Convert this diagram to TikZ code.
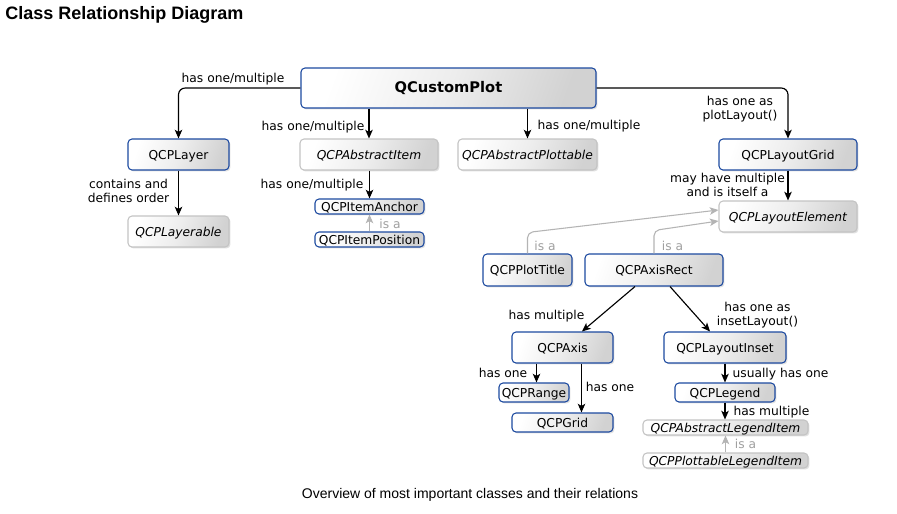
\documentclass[tikz,border=0pt]{standalone}
\usepackage{fontspec}
\setmainfont{DejaVu Sans}
\newfontfamily\arialfont{Liberation Sans}
\usetikzlibrary{arrows.meta,calc,shadows}
\definecolor{bordblue}{HTML}{1D4AA0}
\definecolor{bordgray}{HTML}{C4C4C4}
\definecolor{boxgray}{HTML}{D2D2D2}
\definecolor{boxmid}{HTML}{EDEDED}
\definecolor{isagray}{HTML}{B4B4B4}
\definecolor{isatext}{HTML}{A0A0A0}
\begin{document}
\begin{tikzpicture}[x=0.75pt,y=-0.75pt,
  font=\fontsize{9.2pt}{10.4pt}\selectfont,
  sz/.style 2 args={minimum width=#1*0.75pt, minimum height=#2*0.75pt},
  cls/.style={draw=bordblue, line width=0.8pt, rounded corners=3pt,
    top color=white, bottom color=boxgray, middle color=boxmid, shading angle=70,
    drop shadow={shadow xshift=1.1pt, shadow yshift=-1.1pt, opacity=0.2, fill=black!60},
    inner sep=0pt, text height=0.73em, text depth=0pt},
  abs/.style={cls, draw=bordgray, font=\fontsize{9.2pt}{10.4pt}\selectfont\itshape},
  arr/.style={draw=black, line width=0.85pt, -{Stealth[length=6.5pt, width=5.6pt, inset=1.6pt]}},
  isa/.style={draw=isagray, line width=0.8pt, -{Stealth[length=6.5pt, width=5.6pt, inset=1.6pt]}},
  lbl/.style={inner sep=0pt, text height=0.73em, text depth=0pt},
  lblm/.style={inner sep=0pt, align=center},
  isalbl/.style={lbl, text=isatext}
]
\useasboundingbox (0,0) rectangle (897,514);
\fill[white] (0,0) rectangle (897,514);

% title and caption
\node[anchor=base west, inner sep=0pt, font=\arialfont\fontsize{13.5pt}{15pt}\selectfont\bfseries] (title) at (5,19.5) {Class Relationship Diagram};
\node[anchor=base, inner sep=0pt, font=\arialfont\fontsize{10.5pt}{12pt}\selectfont] (caption) at (470,498) {Overview of most important classes and their relations};

% class boxes
\node[cls, sz={295}{40}, font=\fontsize{11pt}{13pt}\selectfont\bfseries] (cp) at (448.5,88) {QCustomPlot};
\node[cls, sz={101}{31}] (layer) at (178.5,154.5) {QCPLayer};
\node[abs, sz={101}{31}] (layerable) at (178.5,231.5) {QCPLayerable};
\node[abs, sz={138}{31}] (ai) at (369,154.5) {QCPAbstractItem};
\node[cls, sz={109}{15}] (anchor) at (369.5,206.5) {QCPItemAnchor};
\node[cls, sz={109}{15}] (position) at (369.5,239.5) {QCPItemPosition};
\node[abs, sz={139}{31}] (ap) at (527.5,154.5) {QCPAbstractPlottable};
\node[cls, sz={138}{31}] (grid) at (788,154.5) {QCPLayoutGrid};
\node[abs, sz={138}{31}] (le) at (788,216.5) {QCPLayoutElement};
\node[cls, sz={89}{32}] (pt) at (527.5,270) {QCPPlotTitle};
\node[cls, sz={138}{32}] (ar) at (654,270) {QCPAxisRect};
\node[cls, sz={101}{31}] (axis) at (562.5,347.5) {QCPAxis};
\node[cls, sz={122}{31}] (inset) at (725,347.5) {QCPLayoutInset};
\node[cls, sz={70}{19}] (range) at (534,392.5) {QCPRange};
\node[cls, sz={101}{19}] (gridc) at (562.5,422.5) {QCPGrid};
\node[cls, sz={100}{19}] (legend) at (725,392.5) {QCPLegend};
\node[abs, sz={165}{15}] (ali) at (725.5,427.5) {QCPAbstractLegendItem};
\node[abs, sz={165}{15}] (pli) at (725.5,460.5) {QCPPlottableLegendItem};

% connectors
\draw[arr, rounded corners=5pt] (cp.west) -| (layer.north);
\draw[arr] (cp.south -| ai.north) -- (ai.north);
\draw[arr] (cp.south -| ap.north) -- (ap.north);
\draw[arr, rounded corners=5pt] (cp.east) -| (grid.north);
\draw[arr] (layer.south) -- (layerable.north);
\draw[arr] (ai.south -| anchor.north) -- (anchor.north);
\draw[isa] (position.north) -- (anchor.south);
\draw[arr] (grid.south) -- (le.north);
\draw[isa, rounded corners=4pt] (pt.north) -- ($(pt.north)+(0,-21)$) -- ($(le.west)+(0,-6.5)$);
\draw[isa, rounded corners=4pt] (ar.north) -- ($(ar.north)+(0,-23)$) -- ($(le.west)+(0,4.5)$);
\draw[arr] ($(ar.south)+(-19,0)$) -- ($(axis.north)+(19.5,0)$);
\draw[arr] ($(ar.south)+(16,0)$) -- ($(inset.north)+(-15,0)$);
\draw[arr] ($(axis.south -| range.north)+(2.5,0)$) -- ($(range.north)+(2.5,0)$);
\draw[arr] ($(axis.south)+(19,0)$) -- ($(gridc.north)+(19,0)$);
\draw[arr] (inset.south) -- (legend.north);
\draw[arr] (legend.south) -- (legend.south |- ali.north);
\draw[isa] (pli.north) -- (pli.north |- ali.south);

% labels
\node[lbl] (l1) at (233,78) {has one/multiple};
\node[lbl] (l2) at (313,126) {has one/multiple};
\node[lbl] (l3) at (589,125) {has one/multiple};
\node[lblm] (l4) at (740,109) {has one as\\plotLayout()};
\node[lblm] (l5) at (128.5,191) {contains and\\defines order};
\node[lbl] (l6) at (312,184) {has one/multiple};
\node[isalbl] (l7) at (390,224) {is a};
\node[lblm] (l8) at (727.5,184.5) {may have multiple\\and is itself a};
\node[isalbl] (l9) at (545,246) {is a};
\node[isalbl] (l10) at (672.5,246) {is a};
\node[lbl] (l11) at (546.5,315) {has multiple};
\node[lblm] (l12) at (757.5,315) {has one as\\insetLayout()};
\node[lbl] (l13) at (503,373) {has one};
\node[lbl] (l14) at (610,387) {has one};
\node[lbl] (l15) at (780.5,373) {usually has one};
\node[lbl] (l16) at (771.5,411) {has multiple};
\node[isalbl] (l17) at (745.5,444) {is a};
\end{tikzpicture}
\end{document}
